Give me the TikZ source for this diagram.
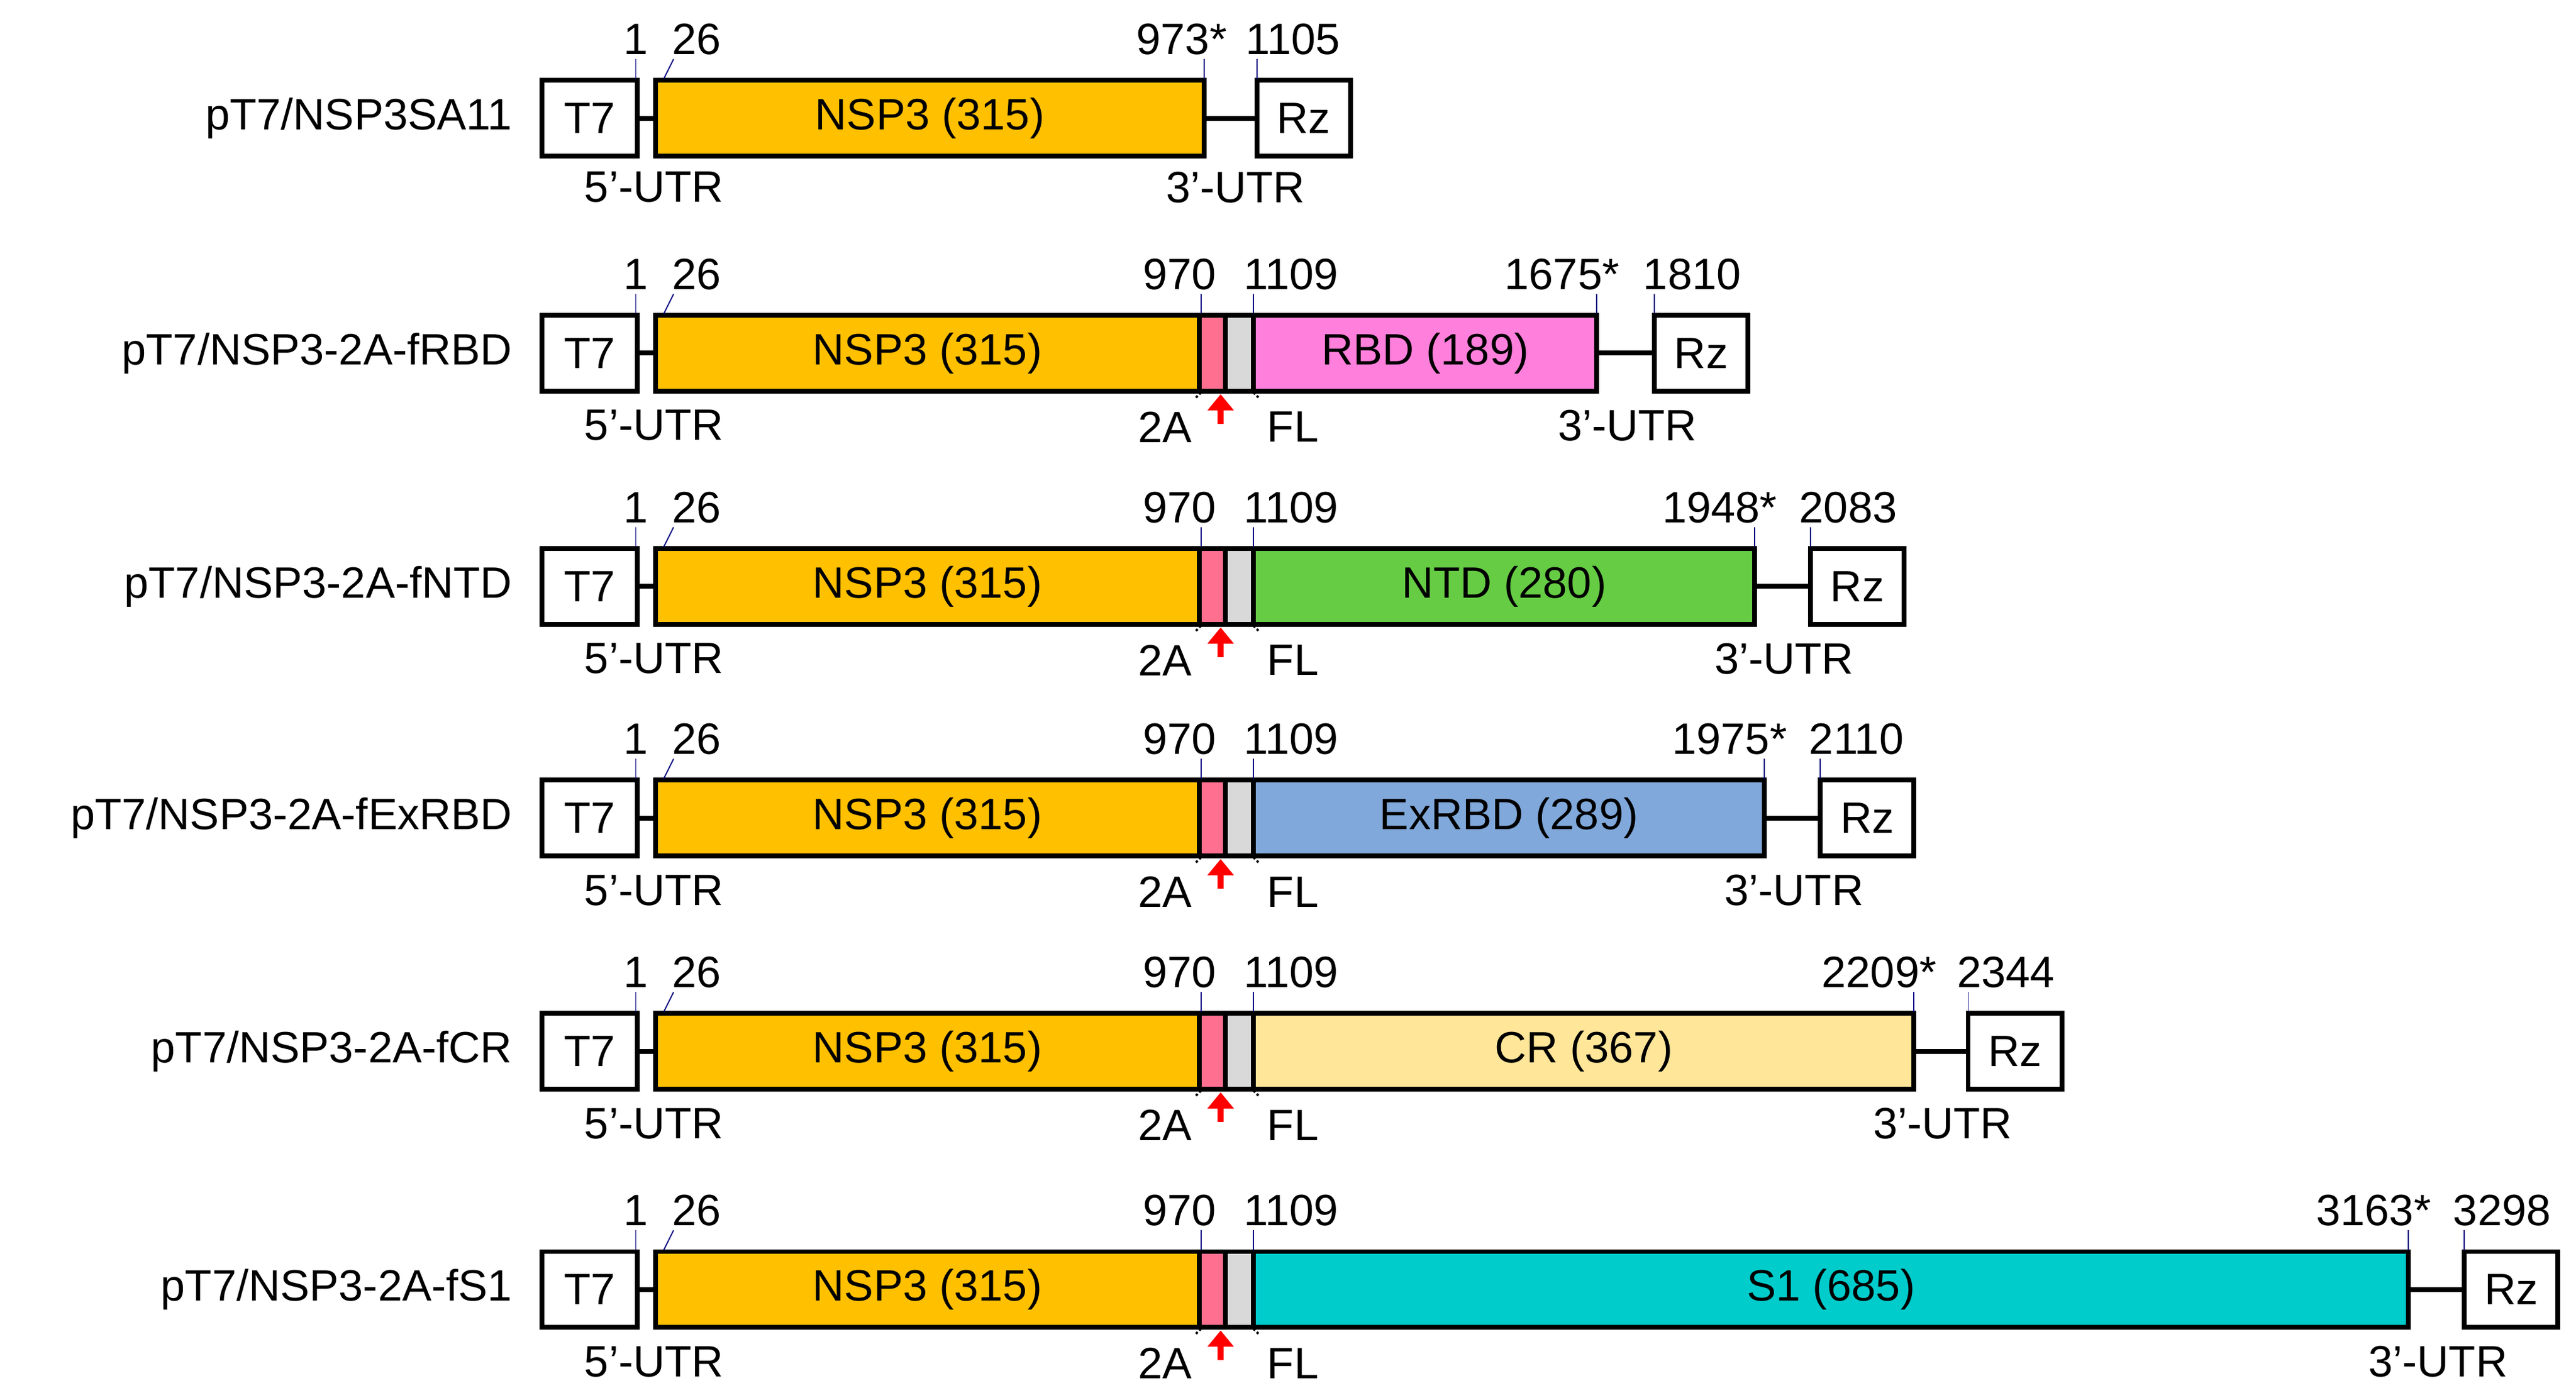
\documentclass[tikz,border=0pt]{standalone}
\usepackage{fontspec}
\setmainfont{Liberation Sans}
\definecolor{nsp}{HTML}{FFC000}
\definecolor{twoa}{HTML}{FF7090}
\definecolor{fl}{HTML}{D9D9D9}
\definecolor{rbd}{HTML}{FF80DC}
\definecolor{ntd}{HTML}{66CC44}
\definecolor{exr}{HTML}{80A8DA}
\definecolor{cr}{HTML}{FFE699}
\definecolor{sone}{HTML}{00CCCC}
\tikzset{
 box/.style={draw=black,line width=2.1pt,inner sep=0pt},
 link/.style={line width=2.1pt},
 tick/.style={draw=blue!50!black,line width=0.5pt},
 txt/.style={font=\fontsize{19}{22}\selectfont,inner sep=0pt},
 arr/.style={red,line width=2.6pt,-{Triangle[length=7pt,width=11pt]}},
}
\usetikzlibrary{arrows.meta}
\newcommand\myrow[8]{% #1 y, #2 id, #3 name, #4 endx, #5 color, #6 label, #7 num end, #8 rz x, extra: num rz
 \begin{scope}[shift={(0,#1)}]
 \node[txt,anchor=east] (n#2) at (312,0) {#3};
 \node[box,fill=white,minimum width=58*0.25mm,minimum height=46*0.25mm] (t#2) at (359,0) {\fontsize{19}{22}\selectfont T7};
 \node[box,fill=nsp,minimum width=331*0.25mm,minimum height=46*0.25mm] (a#2) at (564.5,0) {\fontsize{19}{22}\selectfont NSP3 (315)};
 \node[box,fill=twoa,minimum width=16*0.25mm,minimum height=46*0.25mm] (p#2) at (738,0) {};
 \node[box,fill=fl,minimum width=17*0.25mm,minimum height=46*0.25mm] (g#2) at (754.5,0) {};
 \node[box,fill=#5,minimum width=(#4-763)*0.25mm,minimum height=46*0.25mm] (c#2) at ({(#4+763)/2},0) {\fontsize{19}{22}\selectfont #6};
 \node[box,fill=white,minimum width=57*0.25mm,minimum height=46*0.25mm] (r#2) at (#8+28.5,0) {\fontsize{19}{22}\selectfont Rz};
 \draw[link] (t#2.east) -- (a#2.west);
 \draw[link] (c#2.east) -- (r#2.west);
 \node[txt] (l1#2) at (387,-48) {1};
 \node[txt] (l26#2) at (424,-48) {26};
 \node[txt] (l970#2) at (718,-48) {970};
 \node[txt] (l1109#2) at (786,-48) {1109};
 \node[txt,anchor=east] (le#2) at (#4+14,-48) {#7*};
 \node[txt,anchor=west] (lr#2) at (#8-7,-48) {\the\numexpr#7+135\relax};
 \draw[tick] (387,-36) -- (387,-24);
 \draw[tick] (404,-24) -- (410,-36);
 \draw[tick] (731,-36) -- (731,-24);
 \draw[tick] (763,-36) -- (763,-24);
 \draw[tick] (#4,-36) -- (#4,-24);
 \draw[tick] (#8,-36) -- (#8,-24);
 \node[txt] (u5#2) at (398,44) {5'-UTR};
 \node[txt] (u2a#2) at (709,45) {2A};
 \node[txt] (ufl#2) at (787,45) {FL};
 \node[txt] (u3#2) at ({(#4+#8)/2+1},44) {3'-UTR};
 \coordinate (ab#2) at (743,43);
 \draw[arr] (ab#2) -- (743,25);
 \draw[densely dotted,line width=1pt] (728,27) -- (733,22);
 \draw[densely dotted,line width=1pt] (761,22) -- (766,27);
 \end{scope}}
\begin{document}
\begin{tikzpicture}[x=0.025cm,y=-0.025cm]
\useasboundingbox (0,0) rectangle (1568,845);
% row 1
\begin{scope}[shift={(0,72)}]
 \node[txt,anchor=east] (n1) at (312,0) {pT7/NSP3SA11};
 \node[box,fill=white,minimum width=58*0.25mm,minimum height=46*0.25mm] (t1) at (359,0) {\fontsize{19}{22}\selectfont T7};
 \node[box,fill=nsp,minimum width=334*0.25mm,minimum height=46*0.25mm] (a1) at (566,0) {\fontsize{19}{22}\selectfont NSP3 (315)};
 \node[box,fill=white,minimum width=57*0.25mm,minimum height=46*0.25mm] (r1) at (793.5,0) {\fontsize{19}{22}\selectfont Rz};
 \draw[link] (t1.east) -- (a1.west);
 \draw[link] (a1.east) -- (r1.west);
 \node[txt] (l11) at (387,-48) {1};
 \node[txt] (l261) at (424,-48) {26};
 \node[txt,anchor=east] (le1) at (747,-48) {973*};
 \node[txt,anchor=west] (lr1) at (758,-48) {1105};
 \draw[tick] (387,-36) -- (387,-24);
 \draw[tick] (404,-24) -- (410,-36);
 \draw[tick] (733,-36) -- (733,-24);
 \draw[tick] (765,-36) -- (765,-24);
 \node[txt] (u51) at (398,42) {5'-UTR};
 \node[txt] (u31) at (752,42) {3'-UTR};
\end{scope}
\myrow{215}{2}{pT7/NSP3-2A-fRBD}{972}{rbd}{RBD (189)}{1675}{1007}
\myrow{357}{3}{pT7/NSP3-2A-fNTD}{1068}{ntd}{NTD (280)}{1948}{1102}
\myrow{498}{4}{pT7/NSP3-2A-fExRBD}{1074}{exr}{ExRBD (289)}{1975}{1108}
\myrow{640}{5}{pT7/NSP3-2A-fCR}{1165}{cr}{CR (367)}{2209}{1198}
\myrow{785}{6}{pT7/NSP3-2A-fS1}{1466}{sone}{S1 (685)}{3163}{1500}
\end{tikzpicture}
\end{document}
